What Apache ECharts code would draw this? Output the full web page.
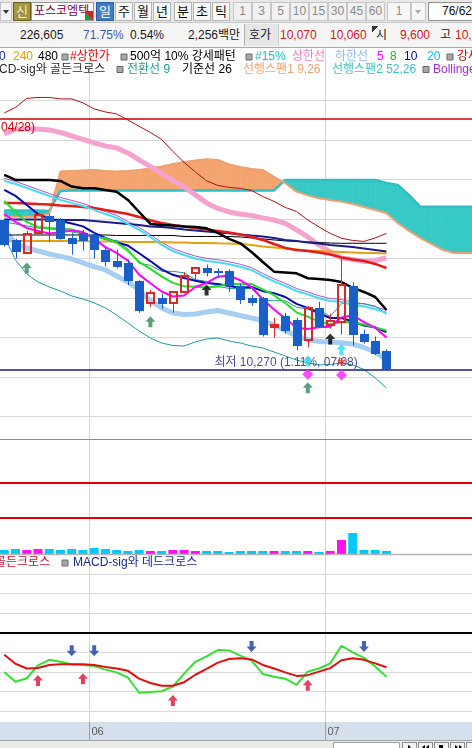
<!DOCTYPE html>
<html>
<head>
<meta charset="utf-8">
<script src="https://cdn.jsdelivr.net/npm/echarts@6/dist/echarts.min.js"></script>
<style>
html,body{margin:0;padding:0;width:472px;height:748px;overflow:hidden;background:#fff;}
#chart{position:absolute;left:0;top:0;width:472px;height:748px;}
#hdr{position:absolute;left:0;top:0;width:472px;height:48px;overflow:hidden;font-family:"Liberation Sans","Noto Sans CJK KR",sans-serif;z-index:5;}
#hdr div{position:absolute;box-sizing:border-box;white-space:nowrap;text-align:center;overflow:hidden;}
.b{top:2px;height:19px;line-height:17px;font-size:13px;border:1px solid #b4b4b4;background:#f7f7f7;color:#111;}
.n{top:2px;height:19px;line-height:17px;font-size:12px;border:1px solid #c6c6c6;background:#f1f1f1;color:#8a8a8a;}
.t{top:23px;height:24px;line-height:24px;font-size:12px;color:#1a1a1a;text-align:left !important;overflow:visible !important;}
.r{color:#d02020 !important;}
</style>
</head>
<body>
<div id="chart"></div>
<div id="hdr">
  <div style="left:0;top:0;width:472px;height:23px;background:#e8e8e8;border-bottom:1px solid #c4c4c4"></div>
  <div style="left:0;top:23px;width:472px;height:25px;background:#f5f5f5;border-bottom:1px solid #a8a8a8"></div>
  <div style="left:0;top:2px;width:12px;height:19px;background:#f4f4f4;border:1px solid #c0c0c0"></div>
  <div style="left:3px;top:10px;width:0;height:0;border-left:3px solid transparent;border-right:3px solid transparent;border-top:4px solid #333"></div>
  <div class="b" style="left:13px;width:18px;background:#a39446;border-color:#6a5c1c;color:#eef3c0">신</div>
  <div class="b" style="left:31px;width:63px;background:#fff;border-color:#9a9a9a;color:#7d0045;text-align:left;padding-left:2px;font-size:12px">포스코엠텍</div>
  <div style="left:85px;top:11px;width:8px;height:9px;background:linear-gradient(to top right,#1f9a3a 50%,#d42020 50%)"></div>
  <div class="b" style="left:96px;width:18px;background:#3e7cc9;border-color:#2d5f9f;color:#fff">일</div>
  <div class="b" style="left:115px;width:18px">주</div>
  <div class="b" style="left:134px;width:18px">월</div>
  <div class="b" style="left:153px;width:18px">년</div>
  <div class="b" style="left:174px;width:18px">분</div>
  <div class="b" style="left:193px;width:18px">초</div>
  <div class="b" style="left:212px;width:18px">틱</div>
  <div class="n" style="left:233px;width:19px">1</div>
  <div class="n" style="left:252px;width:19px">3</div>
  <div class="n" style="left:271px;width:19px">5</div>
  <div class="n" style="left:290px;width:19px">10</div>
  <div class="n" style="left:309px;width:19px">15</div>
  <div class="n" style="left:328px;width:19px">30</div>
  <div class="n" style="left:347px;width:19px">45</div>
  <div class="n" style="left:366px;width:19px">60</div>
  <div class="n" style="left:387px;width:24px;background:#f7f7f7">1</div>
  <div class="n" style="left:411px;width:15px;background:#f7f7f7"></div>
  <div style="left:415px;top:10px;width:0;height:0;border-left:3px solid transparent;border-right:3px solid transparent;border-top:4px solid #aaa"></div>
  <div class="n" style="left:428px;width:50px;background:#fff;border-color:#909090;color:#111;text-align:left;padding-left:13px">76/62</div>

  <div class="t" style="left:20px">226,605</div>
  <div class="t" style="left:83px;color:#3a5aa8">71.75%</div>
  <div class="t" style="left:130px">0.54%</div>
  <div class="t" style="left:188px">2,256백만</div>
  <div style="left:244px;top:24px;width:35px;height:22px;background:#e6e6e6;border-left:1px solid #b0b0b0;border-right:1px solid #c8c8c8"></div>
  <div class="t" style="left:249px">호가</div>
  <div class="t r" style="left:280px">10,070</div>
  <div class="t r" style="left:330px">10,060</div>
  <div style="left:372px;top:26px;width:6px;height:6px;background:linear-gradient(to bottom right,#333 50%,transparent 50%)"></div>
  <div class="t" style="left:376px">시</div>
  <div class="t r" style="left:400px">9,600</div>
  <div class="t" style="left:440px">고</div>
  <div class="t r" style="left:455px">10,3</div>
</div>
<script>
// ---------------- data ----------------
const dates = ['05/20','05/23','05/24','05/25','05/26','05/27','05/30','05/31',
  '06/01','06/02','06/03','06/07','06/08','06/09','06/10','06/13','06/14','06/15','06/16','06/17','06/20',
  '06/21','06/22','06/23','06/24','06/27','06/28','06/29','06/30',
  '07/01','07/04','07/05','07/06','07/07','07/08'];
const opens  = [11790,11590,11460,11660,11830,11790,11610,11660,11640,11490,11370,11350,11170,10950,11000,10950,11060,11250,11300,11270,11270,11120,11000,11000,10710,10820,10780,10570,10900,10730,10760,11120,10640,10560,10460];
const closes = [11540,11470,11650,11840,11770,11600,11550,11580,11490,11360,11310,11170,10870,11050,10940,11060,11220,11300,11250,11250,11120,10980,10950,10630,10730,10670,10510,10900,10710,10770,11130,10630,10550,10430,10280];
const lows   = [11520,11400,11450,11650,11570,11590,11440,11480,11400,11320,11300,11130,10850,10910,10890,10850,11050,11190,11220,11200,11060,10940,10920,10610,10600,10640,10470,10500,10700,10690,10630,10520,10540,10420,10270];
const highs  = [11800,11600,11680,11860,11850,11810,11660,11690,11660,11520,11490,11390,11180,11080,11040,11070,11260,11310,11340,11300,11290,11150,11030,11010,10800,10850,10800,10920,10960,10840,11410,11160,10680,10610,10480];
const volumes = [200000,250000,200000,250000,250000,200000,250000,200000,300000,250000,200000,150000,200000,150000,150000,200000,200000,150000,150000,150000,100000,150000,150000,150000,150000,150000,150000,150000,100000,150000,700000,1050000,200000,200000,150000];
const volumeRefLines = [3550000, 1800000];

const ma5   = [11851,11770,11709,11679,11654,11667,11683,11668,11598,11515,11456,11379,11237,11150,11066,11015,11026,11112,11152,11216,11227,11180,11111,10987,10883,10794,10699,10687,10703,10710,10803,10826,10756,10700,10601];
const ma8   = [11983,11871,11770,11720,11709,11704,11694,11659,11619,11604,11562,11477,11365,11295,11219,11153,11120,11113,11106,11117,11147,11139,11141,11087,11028,10949,10855,10811,10760,10734,10756,10755,10732,10701,10672];
const ma10  = [12094,12034,11942,11851,11801,11780,11755,11725,11659,11608,11562,11531,11453,11374,11290,11235,11203,11175,11151,11141,11122,11103,11111,11069,11049,11010,10940,10899,10845,10797,10798,10762,10722,10701,10656];
const ma20  = [12186,12155,12115,12074,12034,11993,11963,11932,11892,11851,11811,11750,11689,11618,11537,11476,11436,11400,11375,11363,11342,11317,11282,11222,11169,11123,11071,11037,10998,10969,10960,10932,10916,10886,10852];
const ma60  = [11963,11963,11958,11952,11947,11937,11932,11922,11912,11891,11871,11851,11821,11785,11760,11740,11725,11709,11694,11679,11664,11644,11618,11588,11547,11507,11487,11476,11461,11441,11411,11390,11375,11345,11304];
const ma120 = [11795,11795,11795,11795,11795,11790,11790,11790,11780,11770,11760,11750,11740,11725,11720,11709,11694,11684,11674,11664,11656,11644,11633,11623,11608,11588,11578,11562,11552,11537,11527,11517,11502,11487,11471];
const ma240 = [11573,11578,11578,11578,11578,11578,11578,11578,11573,11573,11573,11568,11568,11568,11568,11562,11562,11557,11557,11554,11552,11547,11537,11522,11512,11502,11492,11481,11476,11471,11466,11461,11456,11456,11451];
const ma480 = [11638,11638,11638,11638,11638,11638,11638,11638,11638,11638,11633,11633,11633,11633,11633,11633,11623,11623,11623,11623,11623,11618,11608,11598,11588,11578,11573,11568,11562,11557,11554,11554,11554,11554,11554];
const tenkan = [11770,11750,11730,11709,11699,11689,11669,11649,11631,11589,11583,11497,11351,11331,11270,11270,11255,11186,11168,11118,11097,11097,11097,10978,10972,10972,10907,10887,10882,10813,10943,10943,10943,10917,10836];
const kijun  = [12246,12196,12196,12196,12196,12186,12128,12112,12112,12094,12077,11993,11871,11750,11740,11735,11725,11720,11706,11659,11598,11554,11466,11365,11267,11259,11250,11200,11193,11183,11162,11102,11061,11010,10878];
const span1 = [11824,11824,11824,11824,11851,12280,12287,12292,12297,12287,12280,12287,12297,12312,12332,12358,12378,12393,12405,12398,12353,12327,12307,12297,12226,12162,12077,12039,12010,11993,11976,11952,11922,11891,11861,11760,11679,11608,11547,11487,11456,11456,11456];
const span2 = [11885,11885,11885,11885,11882,12084,12089,12089,12089,12089,12089,12089,12089,12089,12089,12089,12089,12089,12089,12089,12089,12089,12089,12089,12089,12196,12196,12196,12196,12196,12196,12196,12196,12196,12165,12145,12044,11925,11925,11925,11925,11925,11925];
const bbUpper  = [12874,12930,13021,13031,13031,13016,13016,12976,12915,12884,12864,12803,12738,12677,12606,12484,12373,12277,12186,12140,12120,12110,12089,12028,11978,11917,11876,11790,11720,11654,11605,11583,11573,11608,11654];
const bbMiddle = [12211,12180,12140,12099,12059,12018,11988,11957,11917,11876,11836,11775,11714,11643,11562,11501,11461,11425,11400,11388,11367,11342,11307,11247,11194,11148,11096,11062,11023,10994,10985,10957,10941,10911,10877];
const bbLower  = [11628,11385,11243,11162,11112,11071,11021,10990,10950,10899,10828,10747,10666,10595,10544,10519,10514,10555,10585,10595,10565,10544,10514,10494,10453,10413,10372,10342,10322,10327,10342,10322,10276,10190,10089];
const envUpper = [12662,12712,12712,12712,12702,12677,12641,12606,12570,12540,12520,12469,12398,12332,12261,12190,12125,12044,11963,11907,11871,11851,11836,11811,11790,11755,11689,11618,11537,11466,11405,11390,11370,11380,11405];
const envLower = [11689,11557,11507,11476,11446,11421,11395,11355,11317,11284,11223,11162,11081,10970,10899,10848,10833,10838,10858,10874,10848,10823,10798,10772,10727,10671,10615,10580,10560,10555,10547,10534,10499,10453,10372];
const macdLine   = [-100,-125,-116,-83,-69,-74,-81,-82,-85,-94,-101,-114,-153,-151,-149,-137,-104,-74,-60,-44,-45,-58,-71,-105,-112,-117,-133,-99,-91,-78,-33,-50,-64,-86,-112];
const macdSignal = [-56,-79,-91,-90,-82,-80,-80,-80,-82,-87,-91,-97,-117,-128,-135,-135,-126,-107,-92,-76,-67,-65,-68,-82,-91,-101,-110,-108,-99,-90,-70,-65,-69,-78,-88];
const periodHigh = 12820, periodHighDate = '04/28', lowPct = '1.11%';
const sigGreenUp = [[2,11304],[13,10760],[27,10092]];
const sigBlackUp = [[18,11081],[29,10585]];
const sigCyanUp  = [[27,10362],[30,10479]];
const sigDiamond = [[27,10227],[30,10220]];
const sigStar    = [[30,10352]];
const macdDeadCross   = [[6,-46],[8,-46],[22,-35],[32,-35]];
const macdGoldenCross = [[3,-122],[7,-117],[15,-173],[27,-134]];

// ---------------- styles ----------------
const RED = '#d8282a', BLUE = '#1a5fc8';
const FONT = '12px "Liberation Sans","Noto Sans CJK KR",sans-serif';
const UP_ARROW = 'path://M5,0L10,5.5L7,5.5L7,11L3,11L3,5.5L0,5.5Z';
const DN_ARROW = 'path://M3,0L7,0L7,5.5L10,5.5L5,11L0,5.5L3,5.5Z';
const STAR = 'path://M4,0h2v3.3l2.9-1.7l1,1.7l-2.9,1.7l2.9,1.7l-1,1.7l-2.9-1.7v3.3h-2v-3.3l-2.9,1.7l-1-1.7l2.9-1.7l-2.9-1.7l1-1.7l2.9,1.7z';
const XMIN = -0.379, XMAX = 41.61;

const idx = arr => arr.map((v, i) => [i, v]);
function line(name, arr, color, width, z, grid) {
  return {name, type:'line', xAxisIndex:grid||0, yAxisIndex:grid||0, data:idx(arr), symbol:'none', showSymbol:false,
    silent:true, z:z||3, lineStyle:{color, width}, emphasis:{disabled:true}};
}
function scatter(data, symbol, color, size, grid) {
  return {type:'scatter', xAxisIndex:grid||0, yAxisIndex:grid||0, data, symbol, symbolSize:size, silent:true, z:30,
    itemStyle:{color}, emphasis:{disabled:true}};
}

function renderCandle(params, api) {
  const i = api.value(0), o = api.value(1), c = api.value(2), l = api.value(3), h = api.value(4);
  const x = Math.round(api.coord([i, o])[0]);
  const yO = api.coord([i, o])[1], yC = api.coord([i, c])[1], yL = api.coord([i, l])[1], yH = api.coord([i, h])[1];
  const up = c >= o;
  const top = Math.round(Math.min(yO, yC)), bot = Math.round(Math.max(yO, yC));
  const ch = [];
  if (up) {
    ch.push({type:'line', shape:{x1:x+0.5, y1:yH, x2:x+0.5, y2:top}, style:{stroke:RED, lineWidth:1}});
    ch.push({type:'line', shape:{x1:x+0.5, y1:bot, x2:x+0.5, y2:yL}, style:{stroke:RED, lineWidth:1}});
    ch.push({type:'rect', shape:{x:x-3, y:top, width:7, height:Math.max(bot-top,1)}, style:{fill:'rgba(0,0,0,0)', stroke:RED, lineWidth:2}});
  } else {
    ch.push({type:'line', shape:{x1:x+0.5, y1:yH, x2:x+0.5, y2:yL}, style:{stroke:BLUE, lineWidth:1}});
    ch.push({type:'rect', shape:{x:x-4, y:top, width:9, height:Math.max(bot-top,1)}, style:{fill:BLUE}});
  }
  return {type:'group', children:ch};
}
function renderCloud(params, api) {
  const i = api.value(0), a1 = api.value(1), a2 = api.value(2), b1 = api.value(3), b2 = api.value(4);
  const P = (x, y) => api.coord([x, y]);
  const col = d => d >= 0 ? '#f4a46e' : '#36c9c6';
  const da = a1 - a2, db = b1 - b2, polys = [];
  if (da * db >= 0) {
    polys.push({pts:[P(i,a1),P(i+1,b1),P(i+1,b2),P(i,a2)], c:col(da+db)});
  } else {
    const t = da / (da - db), xc = i + t, yc = a1 + t * (b1 - a1);
    polys.push({pts:[P(i,a1),P(xc,yc),P(i,a2)], c:col(da)});
    polys.push({pts:[P(xc,yc),P(i+1,b1),P(i+1,b2)], c:col(db)});
  }
  return {type:'group', children:polys.map(p => ({type:'polygon', shape:{points:p.pts}, style:{fill:p.c, stroke:p.c, lineWidth:0.6}}))};
}

const candleData = dates.map((d, i) => [i, opens[i], closes[i], lows[i], highs[i]]);
const cloudData = span1.slice(0, -1).map((v, i) => [i, v, span2[i], span1[i+1], span2[i+1]]);
const minLow = Math.min(...lows), minLowIdx = lows.indexOf(minLow);
const volData = volumes.map((v, i) => ({value:[i, v], itemStyle:{color: closes[i] >= opens[i] ? '#ff10f4' : '#00c8f8'}}));
const lowText = '최저 ' + minLow.toLocaleString('en-US') + ' (' + lowPct + ', ' + dates[minLowIdx] + ')';

const option = {
  animation:false,
  backgroundColor:'#ffffff',
  grid:[
    {left:0, right:0, top:80.75, height:335.75},
    {left:0, right:0, top:439, height:115},
    {left:0, right:0, top:574, height:137.2}
  ],
  xAxis:[0,1,2].map(k => ({type:'value', gridIndex:k, min:XMIN, max:XMAX, show:false})),
  yAxis:[
    {type:'value', gridIndex:0, min:9800, max:13200, interval:200, axisLine:{show:false}, axisTick:{show:false}, axisLabel:{show:false},
     splitLine:{show:true, lineStyle:{color:['#d9d9d9','rgba(0,0,0,0)'], width:1}}},
    {type:'value', gridIndex:1, min:0, max:5750000, show:false},
    {type:'value', gridIndex:2, min:-200, max:150, interval:50, axisLine:{show:false}, axisTick:{show:false}, axisLabel:{show:false},
     splitLine:{show:true, lineStyle:{color:'#d9d9d9', width:1}}}
  ],
  series:[
    {type:'custom', xAxisIndex:0, yAxisIndex:0, renderItem:renderCloud, data:cloudData, z:1, silent:true, clip:true},
    line('선행스팬2', span2, '#2fbfc4', 2.5, 2),
    line('선행스팬1', span1, '#eda070', 2, 2),
    line('상한선', envUpper, '#f6a2cf', 5, 2),
    line('하한선', envLower, '#a6cdf2', 5, 2),
    line('BB상', bbUpper, '#b01010', 1, 3),
    line('BB하', bbLower, '#1f9b9b', 1, 3),
    line('BB중', bbMiddle, '#b050d0', 1, 3),
    line('480', ma480, '#000000', 1, 3),
    line('240', ma240, '#e8a010', 2, 3),
    line('120', ma120, '#1c1c8c', 2, 3),
    line('60', ma60, '#e41b1b', 2.5, 3),
    line('기준선', kijun, '#000000', 2.5, 3),
    line('전환선', tenkan, '#1f9b8b', 1, 3),
    line('20', ma20, '#44dcf4', 2, 3),
    line('10', ma10, '#0a0ab4', 2, 3),
    line('8', ma8, '#22e022', 2, 3),
    line('5', ma5, '#ff00ff', 2, 3),
    {type:'custom', xAxisIndex:0, yAxisIndex:0, renderItem:renderCandle, data:candleData, z:4, silent:true,
     encode:{x:0, y:[1,2,3,4]},
     markLine:{symbol:'none', silent:true, animation:false, label:{show:false},
       data:[{yAxis:periodHigh, lineStyle:{color:'#c80000', width:1.5, type:'solid'}},
             {yAxis:minLow, lineStyle:{color:'#1a1a7a', width:1.5, type:'solid'}}]}},
    {type:'scatter', xAxisIndex:0, yAxisIndex:0, data:[[minLowIdx, minLow]], symbol:'circle', symbolSize:0, silent:true, z:5,
     label:{show:true, formatter:lowText, position:[-172, -7.5], align:'left', verticalAlign:'middle', color:'#1a1a7a',
       fontSize:12, fontFamily:'"Liberation Sans","Noto Sans CJK KR",sans-serif'}, emphasis:{disabled:true}},
    scatter(sigGreenUp, UP_ARROW, '#2f8a5c', [10,11]),
    scatter(sigBlackUp, UP_ARROW, '#000000', [10,11]),
    scatter(sigCyanUp, UP_ARROW, '#30d8f4', [10,11]),
    scatter(sigDiamond, 'diamond', '#ff22ff', [11,11]),
    scatter(sigStar, STAR, '#e02020', [8,8]),
    {type:'bar', xAxisIndex:1, yAxisIndex:1, data:volData, barWidth:9, silent:true, z:3,
     markLine:{symbol:'none', silent:true, animation:false, label:{show:false},
       data:volumeRefLines.map(v => ({yAxis:v})), lineStyle:{color:'#e00000', width:2, type:'solid'}}},
    Object.assign(line('MACD', macdLine, '#33e033', 2, 4, 2), {
      markLine:{symbol:'none', silent:true, animation:false, label:{show:false},
        data:[{yAxis:0}], lineStyle:{color:'#000', width:2, type:'solid'}}}),
    line('Signal', macdSignal, '#e01010', 2, 4, 2),
    scatter(macdDeadCross, DN_ARROW, '#1a3aa8', [10,11], 2),
    scatter(macdGoldenCross, UP_ARROW, '#dd1133', [10,11], 2)
  ]
};

const chart = echarts.init(document.getElementById('chart'));
chart.setOption(option);

// ---------------- decorations (text, separators) ----------------
const gx = v => chart.convertToPixel({xAxisIndex:0}, v);
const gy = v => chart.convertToPixel({yAxisIndex:0}, v);
const G = [];
const T = (x, y, text, fill, extra) => G.push(Object.assign({type:'text', x, y, z:20, silent:true,
  style:Object.assign({text, fill, font:FONT, verticalAlign:'middle', align:'left'}, extra || {})}));
const SQ = (x, y) => G.push({type:'rect', z:20, silent:true, shape:{x, y, width:6, height:6}, style:{fill:'#a8a8a8', stroke:'#6a6a6a', lineWidth:1}});
const HL = (y, color, w) => G.push({type:'line', z:8, silent:true, shape:{x1:0, y1:y, x2:472, y2:y}, style:{stroke:color, lineWidth:w}});

// month boundaries
const monthStarts = [];
for (let i = 1; i < dates.length; i++) if (dates[i].slice(0,2) !== dates[i-1].slice(0,2)) monthStarts.push(i);

// separators
HL(439.5, '#8c8c8c', 1);
HL(554.5, '#b4b4b4', 1.5);

// x axis strip
G.push({type:'rect', z:10, silent:true, shape:{x:0, y:722, width:472, height:18}, style:{fill:'#d6e0ec'}});
HL(722.5, '#9aa4b0', 1);
HL(740.5, '#9aa4b0', 1);
G.push({type:'rect', z:10, silent:true, shape:{x:0, y:741, width:472, height:7}, style:{fill:'#ecebe8'}});
G.push({type:'rect', z:11, silent:true, shape:{x:333.5, y:742.5, width:66, height:8}, style:{fill:'#ffffff', stroke:'#a0a0a0', lineWidth:1}});
[402, 418, 434, 450, 466].forEach(x => G.push({type:'rect', z:11, silent:true, shape:{x:x+0.5, y:742.5, width:14, height:8}, style:{fill:'#f4f4f4', stroke:'#8a8a8a', lineWidth:1}}));
G.push({type:'polygon', z:12, silent:true, shape:{points:[[408,745],[411,747],[408,749]]}, style:{fill:'#000'}});
G.push({type:'polygon', z:12, silent:true, shape:{points:[[425,745],[422,747],[425,749]]}, style:{fill:'#000'}});
G.push({type:'polygon', z:12, silent:true, shape:{points:[[429,745],[426,747],[429,749]]}, style:{fill:'#000'}});
G.push({type:'rect', z:12, silent:true, shape:{x:439, y:745, width:4, height:4}, style:{fill:'#000'}});
G.push({type:'polygon', z:12, silent:true, shape:{points:[[455,745],[458,747],[455,749]]}, style:{fill:'#000'}});
G.push({type:'polygon', z:12, silent:true, shape:{points:[[459,745],[462,747],[459,749]]}, style:{fill:'#000'}});

monthStarts.forEach(i => {
  const x = Math.round(gx(i - 0.5)) + 0.5;
  G.push({type:'line', z:0, silent:true, shape:{x1:x, y1:48, x2:x, y2:722}, style:{stroke:'#d6d6d6', lineWidth:1}});
  G.push({type:'line', z:12, silent:true, shape:{x1:x, y1:722, x2:x, y2:740}, style:{stroke:'#9aa4b0', lineWidth:1}});
  T(x + 2, 731.5, dates[i].slice(0,2), '#5a5a5a', {font:'11px "Liberation Sans",sans-serif'});
});

// legend row 1
const r1 = 57;
T(-1, r1, '0', '#1a2a9a'); T(13, r1, '240', '#e0a000'); T(38, r1, '480', '#000');
SQ(62, r1-3); T(70, r1, '#상한가', '#e00000');
SQ(121, r1-3); T(130, r1, '500억 10% 강세패턴', '#000');
SQ(246, r1-3); T(255, r1, '#15%', '#20c0c0'); T(292, r1, '상한선', '#f080c0'); T(335, r1, '하한선', '#90b8e8');
T(377, r1, '5', '#ff00ff'); T(390, r1, '8', '#00cc00'); T(404, r1, '10', '#0000aa'); T(427, r1, '20', '#00c8e8');
SQ(447, r1-3); T(457, r1, '강세', '#e00000');
// legend row 2
const r2 = 69.5;
T(-1, r2, 'CD-sig와 골든크로스', '#2a2a2a');
SQ(117, r2-3); T(127, r2, '전환선 9', '#20a090'); T(182, r2, '기준선 26', '#000');
T(243, r2, '선행스팬1 9,26', '#f0a070'); T(332, r2, '선행스팬2 52,26', '#40c0c8');
SQ(423, r2-3); T(433, r2, 'Bollinger', '#a030c0');
// macd legend
T(-5, 563, '골든크로스', '#cc1030'); SQ(62, 560); T(73, 563, 'MACD-sig와 데드크로스', '#1a2a8a');

// high label
T(1, gy(periodHigh) + 9, periodHighDate + ')', '#cc0000');

chart.setOption({graphic:{elements:G}});
</script>
</body>
</html>
